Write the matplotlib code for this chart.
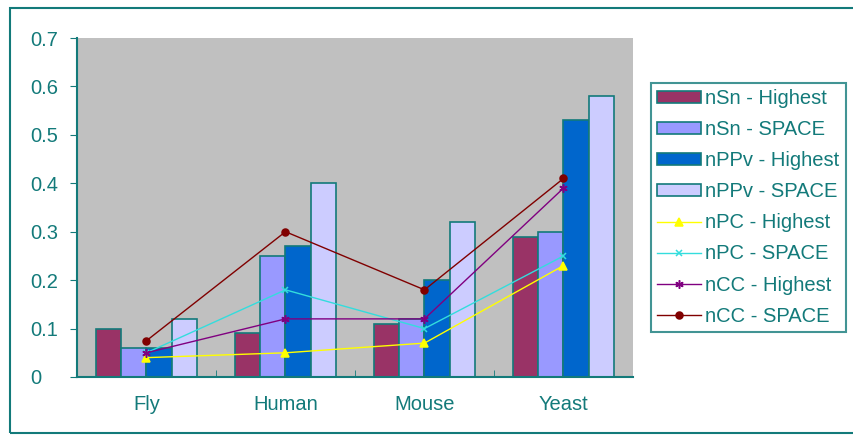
import numpy as np
import matplotlib
matplotlib.use("Agg")
import matplotlib.pyplot as plt
from matplotlib.patches import Rectangle

plt.rcParams["font.family"] = ["Liberation Sans", "DejaVu Sans"]

categories = ["Fly", "Human", "Mouse", "Yeast"]

bar_labels = ["nSn - Highest", "nSn - SPACE", "nPPv - Highest", "nPPv - SPACE"]
nsn_highest = [0.10, 0.09, 0.11, 0.29]
nsn_space = [0.06, 0.25, 0.12, 0.30]
nppv_highest = [0.06, 0.27, 0.20, 0.53]
nppv_space = [0.12, 0.40, 0.32, 0.58]

line_labels = ["nPC - Highest", "nPC - SPACE", "nCC - Highest", "nCC - SPACE"]
npc_highest = [0.04, 0.05, 0.07, 0.23]
npc_space = [0.05, 0.18, 0.10, 0.25]
ncc_highest = [0.05, 0.12, 0.12, 0.39]
ncc_space = [0.075, 0.30, 0.18, 0.41]

TEAL = "#137a7a"
bar_colors = ["#993366", "#9999ff", "#0066cc", "#ccccff"]
line_styles = [
    ("#ffff00", "^", 6),
    ("#33dddd", "x", 5),
    ("#800080", (6, 2, 0), 6),
    ("#800000", "o", 5),
]

fig = plt.figure(figsize=(8.54, 4.37), dpi=100)
W, H = 854, 437

# outer chart-area frame
fig.patches.append(Rectangle((10 / W, 1 - 433 / H), (860 - 10) / W, (433 - 8) / H,
                             transform=fig.transFigure, fill=False,
                             edgecolor=TEAL, linewidth=1.5))

ax = fig.add_axes([77 / W, 1 - 377 / H, (633 - 77) / W, (377 - 38) / H])
ax.set_facecolor("#c0c0c0")

x = np.arange(len(categories))
w = 1 / 5.5
series = [nsn_highest, nsn_space, nppv_highest, nppv_space]
handles = []
for i, (vals, col, lab) in enumerate(zip(series, bar_colors, bar_labels)):
    b = ax.bar(x + (i - 1.5) * w, vals, width=w, color=col, edgecolor=TEAL,
               linewidth=1.2, label=lab, zorder=2)
    handles.append(b)

lines = [npc_highest, npc_space, ncc_highest, ncc_space]
for vals, (col, mk, ms), lab in zip(lines, line_styles, line_labels):
    ln, = ax.plot(x, vals, color=col, marker=mk, markersize=ms, linewidth=1.0,
                  markeredgewidth=1.1, label=lab, zorder=3)
    handles.append(ln)

ax.set_xlim(-0.5, 3.5)
ax.set_ylim(0, 0.7)
ax.set_yticks(np.arange(0, 0.71, 0.1))
ax.set_yticklabels(["0", "0.1", "0.2", "0.3", "0.4", "0.5", "0.6", "0.7"])
ax.set_xticks(x)
ax.set_xticklabels(categories)
ax.set_xticks([0.5, 1.5, 2.5], minor=True)
ax.tick_params(axis="x", which="major", length=0, pad=13, labelsize=14.5, colors=TEAL)
ax.tick_params(axis="x", which="minor", direction="in", length=5, color=TEAL)
ax.tick_params(axis="y", length=5, color=TEAL, labelsize=14.5, labelcolor=TEAL, pad=29)
for lbl in ax.get_yticklabels():
    lbl.set_horizontalalignment("left")
for side in ["left", "bottom"]:
    ax.spines[side].set_color(TEAL)
    ax.spines[side].set_linewidth(1.5)
for side in ["top", "right"]:
    ax.spines[side].set_visible(False)

leg = fig.legend(handles, bar_labels + line_labels, loc="upper left",
                 bbox_to_anchor=(651 / W, 1 - 83 / H),
                 fontsize=14.5, frameon=True, fancybox=False, handlelength=2.2,
                 handleheight=0.5, handletextpad=0.2, labelspacing=0.6,
                 borderpad=0.3, borderaxespad=0)
leg.get_frame().set_edgecolor(TEAL)
leg.get_frame().set_linewidth(1.5)
for t in leg.get_texts():
    t.set_color(TEAL)

fig.savefig("out.png", dpi=100)
